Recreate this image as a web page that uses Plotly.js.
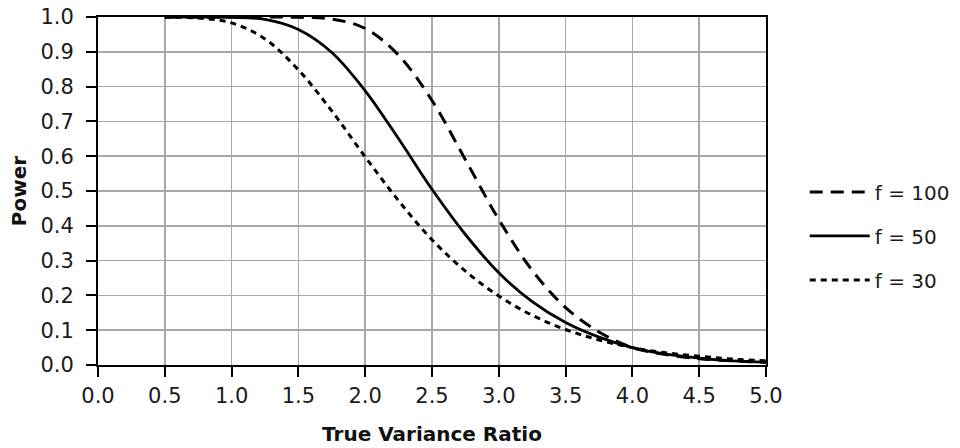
<!DOCTYPE html>
<html>
<head>
<meta charset="utf-8">
<script src="https://cdn.plot.ly/plotly-3.0.1.min.js"></script>
<style>html,body{margin:0;padding:0;background:#fff;}#chart{width:960px;height:448px;}</style>
</head>
<body>
<div id="chart"></div>
<script>
const ratio = [0.5,0.75,1.0,1.25,1.5,1.75,2.0,2.25,2.5,2.75,3.0,3.25,3.5,3.75,4.0,4.25,4.5,4.75,5.0];
const power_f100 = [1.000,1.000,1.000,1.000,0.999,0.994,0.967,0.890,0.760,0.590,0.418,0.272,0.165,0.095,0.050,0.030,0.018,0.012,0.008];
const power_f50  = [1.000,1.000,0.999,0.993,0.964,0.898,0.788,0.650,0.505,0.375,0.265,0.182,0.122,0.080,0.050,0.031,0.020,0.012,0.008];
const power_f30  = [0.999,0.997,0.983,0.937,0.848,0.730,0.598,0.472,0.360,0.270,0.198,0.143,0.102,0.072,0.050,0.035,0.025,0.017,0.012];
const seriesNames = ["f = 100","f = 50","f = 30"];
const xTicks = [0,0.5,1,1.5,2,2.5,3,3.5,4,4.5,5];
const xTickText = ["0.0","0.5","1.0","1.5","2.0","2.5","3.0","3.5","4.0","4.5","5.0"];
const yTicks = [0,0.1,0.2,0.3,0.4,0.5,0.6,0.7,0.8,0.9,1.0];
const yTickText = ["0.0","0.1","0.2","0.3","0.4","0.5","0.6","0.7","0.8","0.9","1.0"];

const font = "DejaVu Sans, Verdana, sans-serif";
function tr(y, name, dash, width, grp) {
  return {x: ratio, y: y, name: name, type: "scatter", mode: "lines",
    legendgroup: grp,
    line: {color: "#000", width: width, dash: dash, shape: "spline", smoothing: 1}};
}
const data = [
  tr(power_f100, seriesNames[0], "13px,8px", 3, "a"),
  tr(power_f50, seriesNames[1], "solid", 2.8, "b"),
  tr(power_f30, seriesNames[2], "6px,5px", 3, "c")
];
const axisCommon = {
  showline: true, linecolor: "#000", linewidth: 2, mirror: true,
  showgrid: true, gridcolor: "#a8a8a8", gridwidth: 1.5,
  ticks: "outside", ticklen: 10, tickwidth: 2, tickcolor: "#000",
  zeroline: false, fixedrange: true, automargin: false,
  tickfont: {family: font, size: 21, color: "#1a1a1a"}
};
const layout = {
  width: 960, height: 448,
  margin: {l: 98, r: 194, t: 17, b: 83, autoexpand: false},
  paper_bgcolor: "#fff", plot_bgcolor: "#fff",
  font: {family: font, color: "#000"},
  xaxis: Object.assign({}, axisCommon, {
    range: [0, 5], tickmode: "array", tickvals: xTicks, ticktext: xTickText,
    ticklabelstandoff: 1,
    title: {text: "True Variance Ratio", font: {family: font, size: 20, weight: "bold", color: "#111"}, standoff: 20}
  }),
  yaxis: Object.assign({}, axisCommon, {
    range: [0, 1], tickmode: "array", tickvals: yTicks, ticktext: yTickText,
    ticklabelstandoff: 8,
    title: {text: "Power", font: {family: font, size: 20, weight: "bold", color: "#111"}, standoff: 8}
  }),
  showlegend: true,
  legend: {
    x: 1.058, xanchor: "left", y: 0.371, yanchor: "middle",
    font: {family: font, size: 20, color: "#1a1a1a"},
    traceorder: "grouped", tracegroupgap: 15, itemwidth: 60,
    bgcolor: "rgba(0,0,0,0)", borderwidth: 0
  }
};
Plotly.newPlot("chart", data, layout, {staticPlot: true, displayModeBar: false});
</script>
</body>
</html>
